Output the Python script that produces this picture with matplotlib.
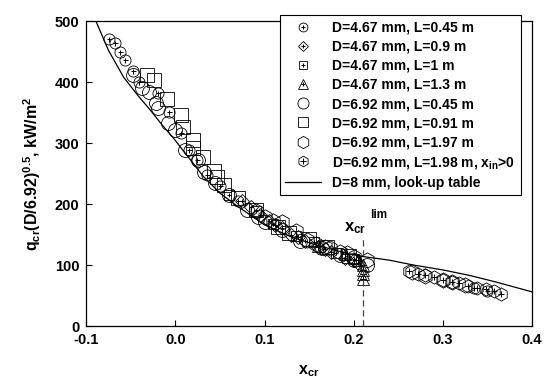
import matplotlib
matplotlib.use("Agg")
import matplotlib.pyplot as plt
from matplotlib.lines import Line2D

plt.rcParams['font.family'] = ['Liberation Sans', 'DejaVu Sans']
plt.rcParams['font.weight'] = 'bold'
plt.rcParams['axes.labelweight'] = 'bold'
plt.rcParams['mathtext.fontset'] = 'custom'
plt.rcParams['mathtext.rm'] = 'Liberation Sans:bold'
plt.rcParams['mathtext.it'] = 'Liberation Sans:bold'
plt.rcParams['mathtext.bf'] = 'Liberation Sans:bold'

# look-up table curve, D=8 mm
lut_x = [-0.092, -0.075, -0.058, -0.042, -0.028, -0.015, -0.002, 0.015, 0.031, 0.05,
         0.07, 0.1, 0.13, 0.16, 0.19, 0.21, 0.24, 0.267, 0.3, 0.33, 0.36, 0.4]
lut_y = [510, 452, 408, 378, 354, 330, 308, 276, 246, 218,
         196, 166, 146, 132, 120, 114, 108, 100, 92, 83, 72, 56]

# D=4.67 mm, L=0.45 m
s1_x = [-0.074, -0.068, -0.062, -0.056, -0.047, -0.041, -0.02, -0.007, 0.006, 0.015,
        0.024, 0.036, 0.05, 0.07, 0.335, 0.35]
s1_y = [470, 464, 449, 436, 418, 400, 382, 351, 316, 289,
        272, 248, 230, 205, 62, 58]
# D=4.67 mm, L=0.9 m
s2_x = [0.075, 0.085, 0.095, 0.105, 0.112, 0.12, 0.13, 0.138, 0.145, 0.16, 0.168,
        0.175, 0.19, 0.2, 0.205]
s2_y = [205, 195, 182, 172, 166, 160, 150, 146, 140, 130, 127,
        122, 112, 108, 104]
# D=4.67 mm, L=1 m
s3_x = [0.06, 0.09, 0.11, 0.135, 0.155, 0.18, 0.2]
s3_y = [215, 188, 168, 148, 138, 120, 110]
# D=4.67 mm, L=1.3 m
s4_x = [0.16, 0.19, 0.205, 0.21, 0.21, 0.21, 0.21]
s4_y = [132, 118, 108, 100, 92, 85, 77]
# D=6.92 mm, L=0.45 m
s5_x = [-0.048, -0.037, -0.03, -0.022, -0.019, -0.008, 0.0, 0.011, 0.025, 0.032,
        0.045, 0.06, 0.08, 0.093, 0.1, 0.12, 0.14, 0.165, 0.185, 0.2, 0.215]
s5_y = [411, 390, 384, 366, 357, 333, 321, 289, 272, 252,
        235, 215, 190, 178, 170, 158, 140, 128, 116, 108, 100]
# D=6.92 mm, L=0.91 m
s6_x = [-0.032, -0.024, -0.009, 0.006, 0.009, 0.02, 0.02, 0.031, 0.043, 0.047,
        0.055, 0.07, 0.09, 0.115, 0.128, 0.15, 0.17, 0.195]
s6_y = [411, 403, 372, 346, 326, 305, 292, 277, 254, 244,
        232, 210, 190, 162, 152, 142, 130, 114]
# D=6.92 mm, L=1.97 m
s7_x = [0.09, 0.101, 0.11, 0.12, 0.135, 0.148, 0.158, 0.168, 0.174, 0.185, 0.193,
        0.2, 0.215, 0.265, 0.28, 0.3, 0.31, 0.325]
s7_y = [188, 179, 172, 170, 155, 141, 134, 130, 128, 121, 120,
        113, 108, 88, 82, 76, 72, 68]
# D=6.92 mm, L=1.98 m, x_in>0
s8_x = [0.262, 0.272, 0.28, 0.29, 0.3, 0.31, 0.318, 0.328, 0.338, 0.348, 0.357, 0.365]
s8_y = [90, 86, 84, 80, 76, 72, 70, 66, 63, 60, 57, 53]

labels = ["D=4.67 mm, L=0.45 m", "D=4.67 mm, L=0.9 m", "D=4.67 mm, L=1 m",
          "D=4.67 mm, L=1.3 m", "D=6.92 mm, L=0.45 m", "D=6.92 mm, L=0.91 m",
          "D=6.92 mm, L=1.97 m", r"D=6.92 mm, L=1.98 m, x$_{in}$>0",
          "D=8 mm, look-up table"]

fig = plt.figure(figsize=(5.49, 3.84), dpi=100)
ax = fig.add_axes([0.157, 0.151, 0.812, 0.794])

ax.plot(lut_x, lut_y, color='black', lw=0.9, zorder=3)

series = [(s1_x, s1_y, 'o', 8, True),
          (s2_x, s2_y, 'D', 7, True),
          (s3_x, s3_y, 's', 7, True),
          (s4_x, s4_y, '^', 8.5, True),
          (s5_x, s5_y, 'o', 10, False),
          (s6_x, s6_y, 's', 9.5, False),
          (s7_x, s7_y, 'h', 11, False),
          (s8_x, s8_y, 'h', 9.5, True)]

handles = []
for sx, sy, m, ms, plus in series:
    ax.plot(sx, sy, ls='none', marker=m, ms=ms, mfc='none', mec='black', mew=0.6)
    h = Line2D([], [], ls='none', marker=m, ms=ms * 0.8, mfc='none', mec='black', mew=0.6)
    if plus:
        ax.plot(sx, sy, ls='none', marker='+', ms=ms * 0.45, mec='black', mew=0.7)
        hp = Line2D([], [], ls='none', marker='+', ms=ms * 0.38, mec='black', mew=0.7)
        handles.append((h, hp))
    else:
        handles.append(h)
handles.append(Line2D([], [], color='black', lw=0.9))

# limit quality line
ax.plot([0.21, 0.21], [0, 148], color='#444444', lw=0.9, ls=(0, (5, 3)))
ax.text(0.202, 160, r'x$_{cr}$', fontsize=12, ha='center', va='center')
ax.text(0.228, 182, 'lim', fontsize=8.5, ha='center', va='center')

ax.set_xlim(-0.1, 0.4)
ax.set_ylim(0, 500)
ax.set_xticks([-0.1, 0.0, 0.1, 0.2, 0.3, 0.4])
ax.set_xticklabels(['-0.1', '0.0', '0.1', '0.2', '0.3', '0.4'])
ax.set_yticks([0, 100, 200, 300, 400, 500])
ax.tick_params(direction='in', length=4, width=0.8, labelsize=10.5, pad=5)
for sp in ax.spines.values():
    sp.set_linewidth(0.9)

ax.set_xlabel(r'x$_{cr}$', fontsize=11.5, labelpad=12)
ax.set_ylabel(r'q$_{cr}$(D/6.92)$^{0.5}$, kW/m$^2$', fontsize=11.5, labelpad=8)

leg = ax.legend(handles, labels, loc='upper right', bbox_to_anchor=(0.975, 1.02),
                borderaxespad=0, fontsize=10, handlelength=2.6, handletextpad=0.8,
                labelspacing=0.37, fancybox=False, framealpha=1, edgecolor='black')
leg.get_frame().set_linewidth(0.8)
leg.set_zorder(5)

fig.savefig('out.png', dpi=100)
